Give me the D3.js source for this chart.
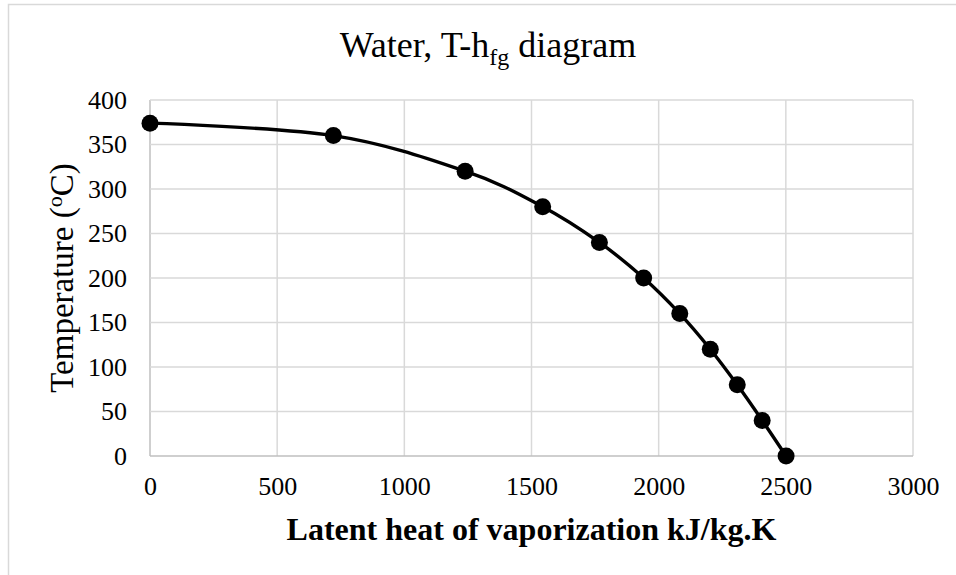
<!DOCTYPE html>
<html>
<head>
<meta charset="utf-8">
<script src="https://cdn.jsdelivr.net/npm/d3@7"></script>
<style>
  body { margin: 0; background: #fff; }
  svg { display: block; font-family: "Liberation Serif", "Times New Roman", serif; }
</style>
</head>
<body>
<svg id="chart" width="956" height="575"></svg>
<script>
// saturated water: latent heat vs temperature
var temps = [0, 40, 80, 120, 160, 200, 240, 280, 320, 360, 374];
var hfg = [2501, 2407, 2309, 2203, 2083, 1941, 1767, 1544, 1239, 721, 0];
var xTicks = [0, 500, 1000, 1500, 2000, 2500, 3000];
var yTicks = [0, 50, 100, 150, 200, 250, 300, 350, 400];

var svg = d3.select("#chart");
var margin = {top: 100, right: 43, bottom: 119, left: 150},
    width = 956 - margin.left - margin.right,
    height = 575 - margin.top - margin.bottom;

// chart area border (cut off at right/bottom like the original)
svg.append("rect")
    .attr("x", 8.5).attr("y", 4.5)
    .attr("width", 1200).attr("height", 1200)
    .attr("fill", "none")
    .attr("stroke", "#d9d9d9")
    .attr("stroke-width", 1.5);

var x = d3.scaleLinear().domain([0, 3000]).range([0, width]),
    y = d3.scaleLinear().domain([0, 400]).range([height, 0]);

var g = svg.append("g")
    .attr("transform", "translate(" + margin.left + "," + margin.top + ")");

// grid
g.selectAll(".vgrid")
    .data(xTicks)
  .enter().append("line")
    .attr("class", "vgrid")
    .attr("x1", function(d) { return x(d); })
    .attr("x2", function(d) { return x(d); })
    .attr("y1", 0).attr("y2", height)
    .attr("stroke", function(d) { return d === 0 ? "#bfbfbf" : "#d9d9d9"; })
    .attr("stroke-width", 1.5);

g.selectAll(".hgrid")
    .data(yTicks)
  .enter().append("line")
    .attr("class", "hgrid")
    .attr("y1", function(d) { return y(d); })
    .attr("y2", function(d) { return y(d); })
    .attr("x1", 0).attr("x2", width)
    .attr("stroke", function(d) { return d === 0 ? "#bfbfbf" : "#d9d9d9"; })
    .attr("stroke-width", 1.5);

// axes (labels only)
var xAxis = g.append("g")
    .attr("transform", "translate(0," + height + ")")
    .call(d3.axisBottom(x).tickValues(xTicks).tickSize(0).tickPadding(30).tickFormat(d3.format("d")));
var yAxis = g.append("g")
    .call(d3.axisLeft(y).tickValues(yTicks).tickSize(0).tickPadding(23).tickFormat(d3.format("d")));

[xAxis, yAxis].forEach(function(a) {
  a.select(".domain").remove();
  a.selectAll("text")
    .attr("font-family", "Liberation Serif, Times New Roman, serif")
    .attr("font-size", 26)
    .attr("fill", "#000");
});
xAxis.selectAll("text").attr("dy", "0.35em");

// smoothed line + markers
var pts = temps.map(function(t, i) { return {t: t, h: hfg[i]}; });
var line = d3.line()
    .x(function(d) { return x(d.h); })
    .y(function(d) { return y(d.t); })
    .curve(d3.curveCatmullRom.alpha(0));

g.append("path")
    .datum(pts)
    .attr("d", line)
    .attr("fill", "none")
    .attr("stroke", "#000")
    .attr("stroke-width", 3.4);

g.selectAll(".dot")
    .data(pts)
  .enter().append("circle")
    .attr("class", "dot")
    .attr("cx", function(d) { return x(d.h); })
    .attr("cy", function(d) { return y(d.t); })
    .attr("r", 8.5)
    .attr("fill", "#000");

// title
var title = svg.append("text")
    .attr("x", 488).attr("y", 57)
    .attr("text-anchor", "middle")
    .attr("font-size", 36)
    .attr("fill", "#000");
title.append("tspan").text("Water, T-h");
title.append("tspan").attr("font-size", 24).attr("dy", 8).text("fg");
title.append("tspan").attr("dy", -8).text(" diagram");

// x axis title
svg.append("text")
    .attr("x", margin.left + width / 2).attr("y", 540)
    .attr("text-anchor", "middle")
    .attr("font-size", 32)
    .attr("font-weight", "bold")
    .attr("fill", "#000")
    .text("Latent heat of vaporization kJ/kg.K");

// y axis title
var yt = svg.append("text")
    .attr("transform", "translate(73," + (margin.top + height / 2) + ") rotate(-90)")
    .attr("text-anchor", "middle")
    .attr("font-size", 33)
    .attr("fill", "#000");
yt.append("tspan").text("Temperature (");
yt.append("tspan").attr("font-size", 22).attr("dy", -11).text("o");
yt.append("tspan").attr("dy", 11).text("C)");
</script>
</body>
</html>
